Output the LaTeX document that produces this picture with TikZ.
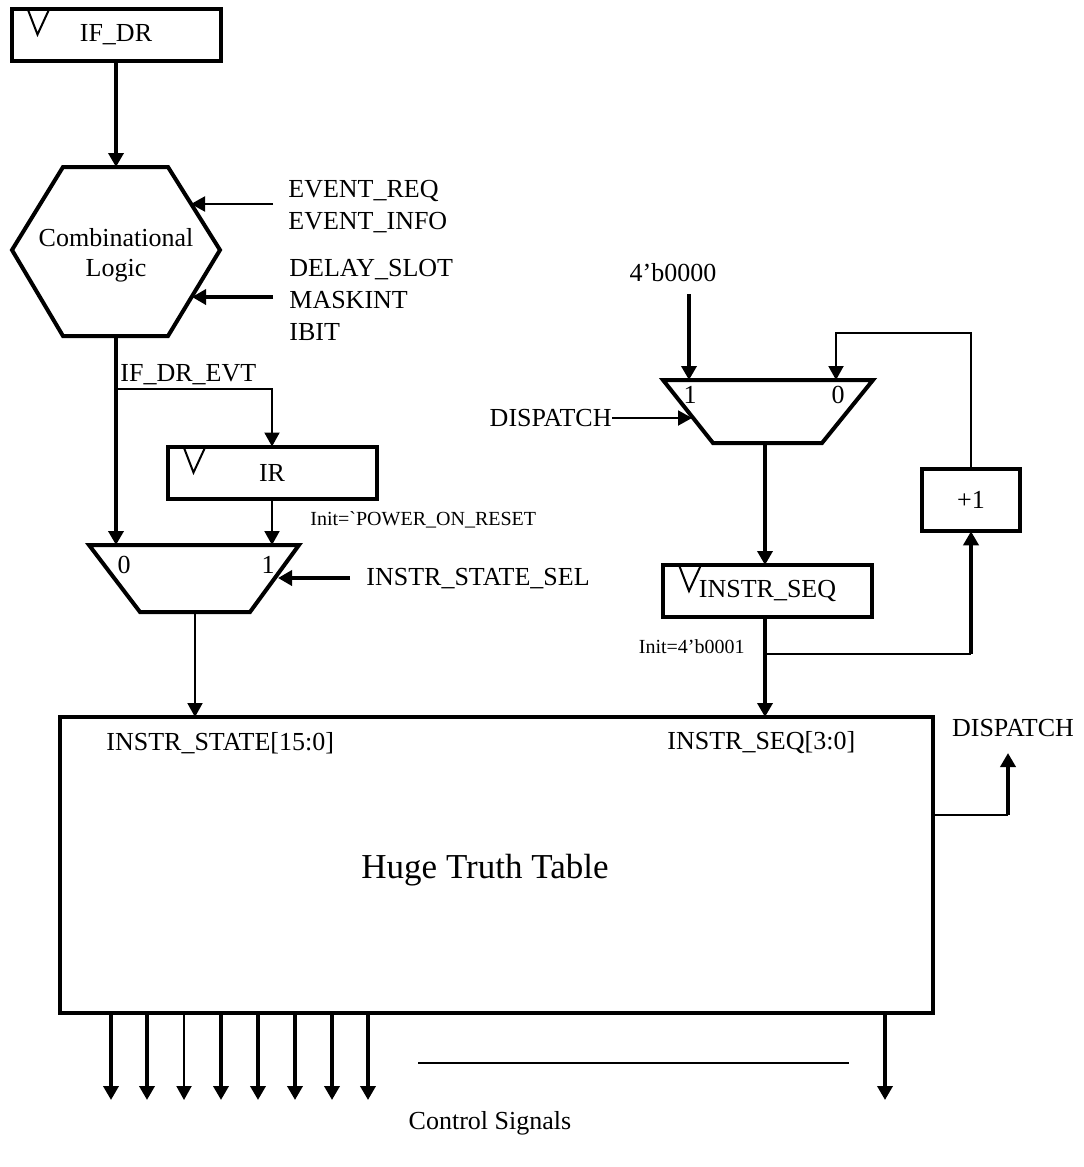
\documentclass[tikz,border=0pt]{standalone}
\usepackage{fontspec}
\setmainfont{Liberation Serif}
\usetikzlibrary{arrows.meta}

\begin{document}
\begin{tikzpicture}[x=0.5pt,y=-0.5pt,
    thin wire/.style={line width=1pt},
    thick wire/.style={line width=2pt},
    arr/.style={-{Triangle[width=7.5pt,length=7pt]}},
    regbox/.style={draw,line width=2pt,inner sep=0pt,outer sep=0pt,
      minimum width=104.5pt,minimum height=26pt,font=\fontsize{13}{15}\selectfont},
    lbl/.style={inner sep=0pt,font=\fontsize{13}{15}\selectfont},
    small/.style={inner sep=0pt,font=\fontsize{10}{12}\selectfont}]
  \useasboundingbox (0,0) rectangle (1083,1167);

  % registers and clock marks
  \node[regbox] (ifdr) at (116,34.5) {IF\_DR};
  \node[regbox] (ir) at (272,472.5) {IR};
  \node[regbox] (seq) at (767.5,591) {INSTR\_SEQ};
  \node[regbox,minimum width=49pt,minimum height=31.25pt] (inc) at (971,500) {+1};
  \foreach \r in {ifdr,ir,seq}
    \draw[thin wire] ([xshift=8pt]\r.north west) -- ++(10,26) -- ++(12,-26);

  % combinational logic
  \draw[thick wire] (63,167) -- (168,167) -- (220,250) -- (168,336)
    -- (63,336) -- (12,250) -- cycle;
  \node[lbl,align=center] (comb) at (116,255) {Combinational\\Logic};
  \coordinate (combin) at (116,167);
  \coordinate (combout) at (116,336);
  \coordinate (evtin) at (191,204);
  \coordinate (dsin) at (192,297);
  \coordinate (evtsrc) at (273,204);
  \coordinate (dssrc) at (273,297);
  \node[lbl,anchor=west] (evreq) at (288,191) {EVENT\_REQ};
  \node[lbl,anchor=west] (evinfo) at (288,223) {EVENT\_INFO};
  \node[lbl,anchor=west] (dslot) at (289,270) {DELAY\_SLOT};
  \node[lbl,anchor=west] (mask) at (289,300) {MASKINT};
  \node[lbl,anchor=west] (ibit) at (289,332) {IBIT};
  \draw[thick wire,arr] (ifdr.south) -- (combin);
  \draw[thin wire,arr] (evtsrc) -- (evtin);
  \draw[thick wire,arr] (dssrc) -- (dsin);

  % left mux
  \draw[thick wire] (89,545) -- (299,545) -- (250,612) -- (140,612) -- cycle;
  \coordinate (muxa0) at (116,545);
  \coordinate (muxa1) at (272,545);
  \coordinate (muxasel) at (278,578);
  \coordinate (muxaout) at (195,612);
  \coordinate (selsrc) at (350,578);
  \coordinate (evttap) at (116,389);
  \node[lbl] (a0) at (124,565) {0};
  \node[lbl] (a1) at (268,565) {1};
  \node[lbl,anchor=west] (evtlbl) at (120,375) {IF\_DR\_EVT};
  \node[small,anchor=west] (irinit) at (310,520) {Init=\textasciigrave POWER\_ON\_RESET};
  \node[lbl,anchor=west] (sel) at (366,579) {INSTR\_STATE\_SEL};
  \draw[thick wire,arr] (combout) -- (muxa0);
  \draw[thin wire,arr] (evttap) -| (ir.north);
  \draw[thin wire,arr] (ir.south) -- (muxa1);
  \draw[thick wire,arr] (selsrc) -- (muxasel);

  % right mux and sequence counter
  \draw[thick wire] (663,380) -- (873,380) -- (822,443) -- (713,443) -- cycle;
  \coordinate (muxb1) at (689,380);
  \coordinate (muxb0) at (836,380);
  \coordinate (muxbsel) at (692,418);
  \coordinate (muxbout) at (765,443);
  \coordinate (zsrc) at (689,294);
  \coordinate (fbk) at (836,333);
  \coordinate (seqtap) at (765,654);
  \coordinate (inctap) at (971,654);
  \node[lbl] (b1) at (690,395) {1};
  \node[lbl] (b0) at (838,395) {0};
  \node[lbl] (zero) at (673,273) {4’b0000};
  \node[lbl,anchor=east] (dsp) at (612,418) {DISPATCH};
  \node[small,anchor=east] (seqinit) at (745,647) {Init=4’b0001};
  \draw[thick wire,arr] (zsrc) -- (muxb1);
  \draw[thin wire,arr] (dsp.east) -- (muxbsel);
  \draw[thin wire,arr] (inc.north) |- (fbk) -- (muxb0);
  \draw[thick wire,arr] (muxbout) -- (muxbout |- seq.north);

  % truth table
  \node[draw,line width=2pt,inner sep=0pt,outer sep=0pt,minimum width=436.5pt,
    minimum height=148pt] (htt) at (496.5,865) {};
  \node[lbl,anchor=west] (stlbl) at (106,743) {INSTR\_STATE[15:0]};
  \node[lbl,anchor=west] (sqlbl) at (667,743) {INSTR\_SEQ[3:0]};
  \node[inner sep=0pt,font=\fontsize{17.5}{20}\selectfont] (htttxt) at (485,870) {Huge Truth Table};
  \draw[thin wire,arr] (muxaout) -- (muxaout |- htt.north);
  \draw[thick wire,arr] (seq.south -| muxbout) -- (muxbout |- htt.north);
  \draw[thin wire] (seqtap) -- (inctap);
  \draw[thick wire,arr] (inctap) -- (inc.south);

  % dispatch out
  \coordinate (dsptap) at (1008,815);
  \coordinate (dsptip) at (1008,753);
  \node[lbl] (dsplbl) at (1013,728) {DISPATCH};
  \draw[thin wire] (htt.east |- dsptap) -- (dsptap);
  \draw[thick wire,arr] (dsptap) -- (dsptip);

  % control signals
  \foreach \x/\w in {111/2,147/2,184/1,221/2,258/2,295/2,332/2,368/2,885/2}
    \draw[line width=\w pt,arr] (htt.south -| \x,0) -- (\x,1100);
  \draw[thin wire] (418,1063) -- (849,1063);
  \node[lbl] (ctl) at (490,1123) {Control Signals};
\end{tikzpicture}
\end{document}
